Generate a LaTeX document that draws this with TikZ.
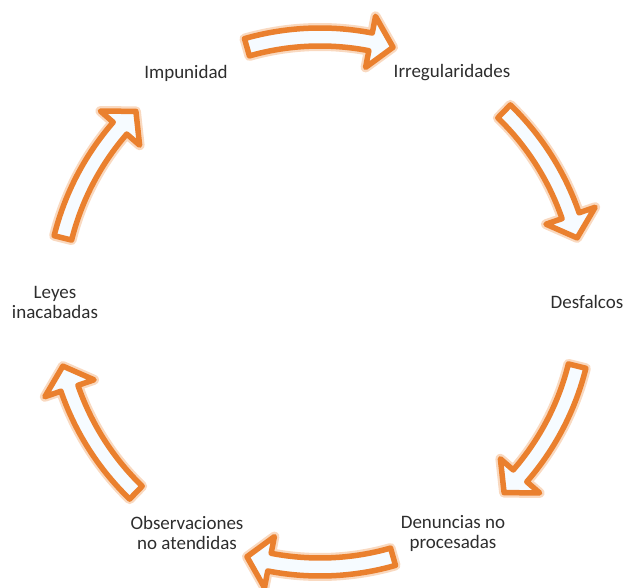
\documentclass[tikz,border=0pt]{standalone}
\usepackage{fontspec}
\setmainfont{Carlito}
\definecolor{arrowline}{RGB}{234,128,46}
\definecolor{arrowfill}{RGB}{246,251,255}
\definecolor{labeltext}{RGB}{45,45,45}
\tikzset{
  lbl/.style={font=\fontsize{19}{20}\selectfont, align=center, text=labeltext, inner sep=0pt},
  arrowshape/.style={
    preaction={draw=arrowline!30, line width=10pt, line join=round},
    draw=arrowline, line width=5.5pt, line join=round, fill=arrowfill}
}
% #1 = mid angle (screen angle, clockwise) of a curved block arrow on the cycle
\newcommand\cyclearrow[1]{%
  \pgfmathsetmacro\arrA{#1-16}%
  \pgfmathsetmacro\arrB{#1+11}%
  \pgfmathsetmacro\arrC{#1+16}%
  \path[arrowshape] (\arrA:274) arc[start angle=\arrA, end angle=\arrB, radius=274]
    -- (\arrB:291) -- (\arrC:265) -- (\arrB:239) -- (\arrB:256)
    arc[start angle=\arrB, end angle=\arrA, radius=256] -- cycle;
}
\begin{document}
\begin{tikzpicture}[x=1pt, y=1pt, yscale=-1]
  \useasboundingbox (0,0) rectangle (625,588);
  \coordinate (center) at (320,302);
  \node[lbl] (impunidad) at (186,73) {Impunidad};
  \node[lbl] (irreg) at (452,73) {Irregularidades};
  \node[lbl] (desfalcos) at (587,302) {Desfalcos};
  \node[lbl] (denuncias) at (453,533) {Denuncias no\\procesadas};
  \node[lbl] (observ) at (187,533) {Observaciones\\no atendidas};
  \node[lbl] (leyes) at (55,302) {Leyes\\inacabadas};
  \begin{scope}[shift={(center)}]
    \cyclearrow{-90}
    \cyclearrow{-30}
    \cyclearrow{30}
    \cyclearrow{90}
    \cyclearrow{150}
    \cyclearrow{210}
  \end{scope}
\end{tikzpicture}
\end{document}
